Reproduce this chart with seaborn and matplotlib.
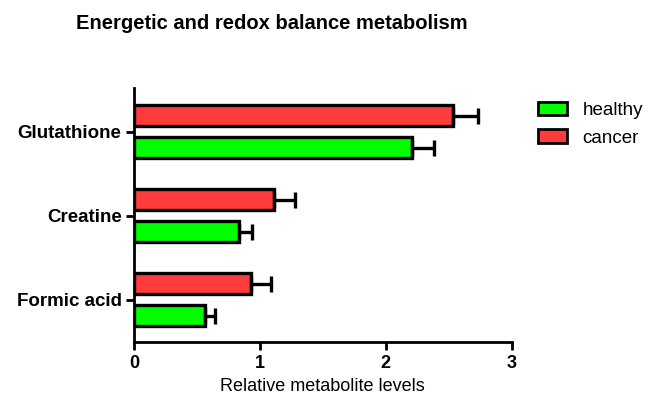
import matplotlib
matplotlib.use("Agg")
import matplotlib.pyplot as plt
from matplotlib.patches import Patch
import seaborn as sns
import pandas as pd
import numpy as np

categories = ["Glutathione", "Creatine", "Formic acid"]
healthy = [2.21, 0.835, 0.56]
healthy_err = [0.17, 0.105, 0.08]
cancer = [2.53, 1.11, 0.93]
cancer_err = [0.20, 0.17, 0.16]
groups = ["cancer", "healthy"]
legend_order = ["healthy", "cancer"]
colors = {"healthy": "#00ff00", "cancer": "#ff3b3b"}
x_ticks = [0, 1, 2, 3]

sns.set_style("ticks")
plt.rcParams['font.family'] = ['Liberation Sans', 'DejaVu Sans']
plt.rcParams['text.color'] = 'black'
plt.rcParams['axes.labelcolor'] = 'black'

df = pd.DataFrame({
    "metabolite": categories * 2,
    "group": ["cancer"] * 3 + ["healthy"] * 3,
    "value": cancer + healthy,
    "err": cancer_err + healthy_err,
})

fig = plt.figure(figsize=(6.48, 4.01), dpi=100)
ax = fig.add_axes([0.2068, 0.1471, 0.5829, 0.6334])

sns.barplot(data=df, y="metabolite", x="value", hue="group", order=categories,
            hue_order=groups, palette=colors, saturation=1, orient="h",
            width=0.76, gap=0.342, edgecolor="black", linewidth=2.4,
            errorbar=None, legend=False, ax=ax)

# error bars (positive side only)
err_lookup = {(r.metabolite, r.group): r.err for r in df.itertuples()}
val_lookup = {(r.metabolite, r.group): r.value for r in df.itertuples()}
for gi, g in enumerate(groups):
    for ci, c in enumerate(categories):
        ypos = ci + (-0.19 if gi == 0 else 0.19)
        ax.errorbar(val_lookup[(c, g)], ypos, xerr=[[0], [err_lookup[(c, g)]]],
                    fmt="none", ecolor="black", elinewidth=2.4, capsize=5.5,
                    capthick=2.4, zorder=1)

ax.set_xlim(0, 3)
ax.set_ylim(2.5, -0.52)
ax.set_xticks(x_ticks)
ax.set_xticklabels([str(t) for t in x_ticks], fontweight="bold", fontsize=13)
for lbl in ax.get_yticklabels():
    lbl.set_fontweight("bold")
    lbl.set_fontsize(13.5)
ax.set_ylabel("")
ax.set_xlabel("Relative metabolite levels", fontsize=13, labelpad=4)
for s in ["top", "right"]:
    ax.spines[s].set_visible(False)
for s in ["left", "bottom"]:
    ax.spines[s].set_linewidth(2)
    ax.spines[s].set_color("black")
ax.tick_params(axis="both", width=2, length=6, color="black", labelcolor="black")
ax.tick_params(axis="y", pad=3)

fig.suptitle("Energetic and redox balance metabolism", fontsize=14.5,
             fontweight="bold", x=0.42, y=0.965, color="black")

handles = [Patch(facecolor=colors[g], edgecolor="black", linewidth=2, label=g)
           for g in legend_order]
fig.legend(handles=handles, loc="upper left", bbox_to_anchor=(0.818, 0.765),
           frameon=False, fontsize=13.5, handlelength=1.55, handleheight=0.75,
           handletextpad=0.85, labelspacing=0.55, borderaxespad=0)

fig.savefig("out.png", dpi=100)
